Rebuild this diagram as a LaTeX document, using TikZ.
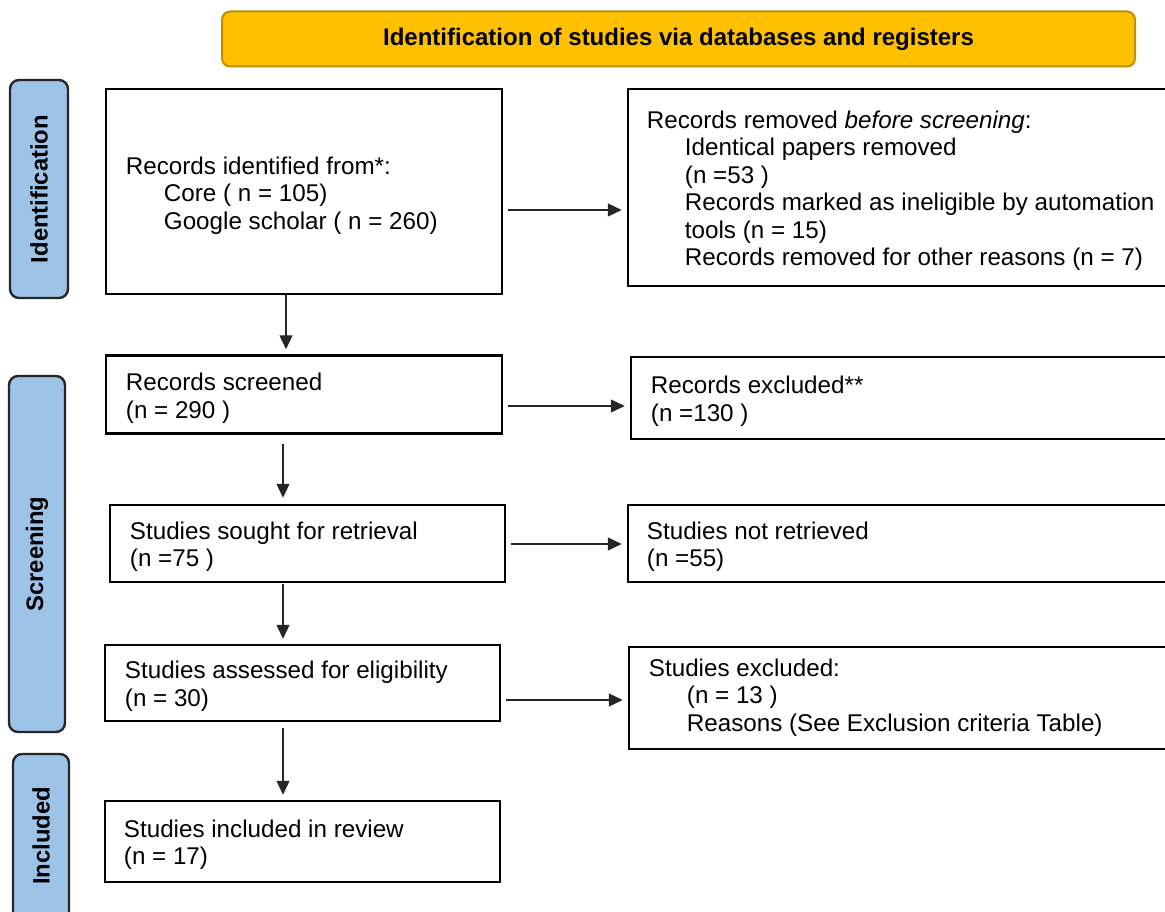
\documentclass[tikz,border=0pt]{standalone}
\usepackage{fontspec}
\setmainfont{Liberation Sans}
\usetikzlibrary{arrows.meta,calc}
\definecolor{titlefill}{HTML}{FFC000}
\definecolor{titledraw}{HTML}{BF9000}
\definecolor{sidefill}{HTML}{9DC3E6}
\newcommand{\ind}{\hspace*{38pt}}
\begin{document}
\begin{tikzpicture}[x=1pt,y=-1pt,
  every node/.style={font=\fontsize{24.2pt}{27.5pt}\selectfont, inner sep=0pt},
  box/.style={draw=black, line width=2.5pt, fill=white},
  txt/.style={anchor=west, align=left},
  side/.style={draw=black!85, line width=2.4pt, fill=sidefill, rounded corners=9pt},
  sidetext/.style={rotate=90, font=\fontsize{23.8pt}{27pt}\selectfont\bfseries},
  arr/.style={line width=1.3pt, draw=black!85, -{Triangle[length=14pt,width=13pt]}}]
\useasboundingbox (0,0) rectangle (1165,912);

% title banner
\node[draw=titledraw, fill=titlefill, line width=2pt, rounded corners=8pt,
      minimum width=913pt, minimum height=55pt,
      font=\fontsize{24pt}{27.5pt}\selectfont\bfseries] (title) at (678.5,39)
      {Identification of studies via databases and registers};

% side labels
\node[side, minimum width=58pt, minimum height=218pt] (sid) at (39,189) {};
\node[sidetext] (sidt) at (sid.center) {Identification};
\node[side, minimum width=56pt, minimum height=356pt] (sscr) at (37,554) {};
\node[sidetext] (sscrt) at (sscr.center) {Screening};
\node[side, minimum width=56pt, minimum height=170pt] (sinc) at (41,839) {};
\node[sidetext] (sinct) at (41,836) {Included};

% boxes
\node[box, minimum width=396pt, minimum height=205pt] (b1) at (304,191.5) {};
\node[box, minimum width=552pt, minimum height=197pt] (b2) at (904,187.5) {};
\node[box, minimum width=396pt, minimum height=78pt] (b3) at (304,394.5) {};
\node[box, minimum width=549pt, minimum height=82pt] (b4) at (905.5,398) {};
\node[box, minimum width=395pt, minimum height=77pt] (b5) at (307.5,543.5) {};
\node[box, minimum width=552pt, minimum height=77pt] (b6) at (904,543.5) {};
\node[box, minimum width=395pt, minimum height=76pt] (b7) at (302.5,683) {};
\node[box, minimum width=551pt, minimum height=102pt] (b8) at (904.5,698) {};
\node[box, minimum width=395pt, minimum height=81pt] (b9) at (302.5,841.5) {};

% texts
\node[txt] (t1) at ($(b1.west)+(21,4)$) {Records identified from*:\\\ind Core ( n = 105)\\\ind Google scholar ( n = 260)};
\node[txt] (t2) at ($(b2.west)+(20,3)$) {Records removed \textit{before screening}:\\\ind Identical papers removed\\\ind (n =53 )\\\ind Records marked as ineligible by automation\\\ind tools (n = 15)\\\ind Records removed for other reasons (n = 7)};
\node[txt] (t3) at ($(b3.west)+(21,3.5)$) {Records screened\\(n = 290 )};
\node[txt] (t4) at ($(b4.west)+(21,3)$) {Records excluded**\\(n =130 )};
\node[txt] (t5) at ($(b5.west)+(21,3)$) {Studies sought for retrieval\\(n =75 )};
\node[txt] (t6) at ($(b6.west)+(20,3)$) {Studies not retrieved\\(n =55)};
\node[txt] (t7) at ($(b7.west)+(21,3)$) {Studies assessed for eligibility\\(n = 30)};
\node[txt] (t8) at ($(b8.west)+(21,-0.5)$) {Studies excluded:\\\ind (n = 13 )\\\ind Reasons (See Exclusion criteria Table)};
\node[txt] (t9) at ($(b9.west)+(20,3)$) {Studies included in review\\(n = 17)};

% horizontal arrows
\draw[arr] ($(b1.east)+(5,18.5)$) -- ($(b2.west)+(-5,22.5)$);
\draw[arr] ($(b3.east)+(5,11.5)$) -- ($(b4.west)+(-5,8)$);
\draw[arr] ($(b5.east)+(5,0.5)$) -- ($(b6.west)+(-5,0.5)$);
\draw[arr] ($(b7.east)+(5,17)$) -- ($(b8.west)+(-5,2)$);

% vertical arrows
\draw[arr] ($(b1.south)+(-18,0)$) -- ($(b3.north)+(-18,-5)$);
\draw[arr] ($(b3.south)+(-21,9)$) -- ($(b5.north)+(-24.5,-6)$);
\draw[arr] ($(b5.south)+(-24.5,1)$) -- ($(b7.north)+(-19.5,-5)$);
\draw[arr] ($(b7.south)+(-19.5,6)$) -- ($(b9.north)+(-19.5,-5)$);
\end{tikzpicture}
\end{document}
